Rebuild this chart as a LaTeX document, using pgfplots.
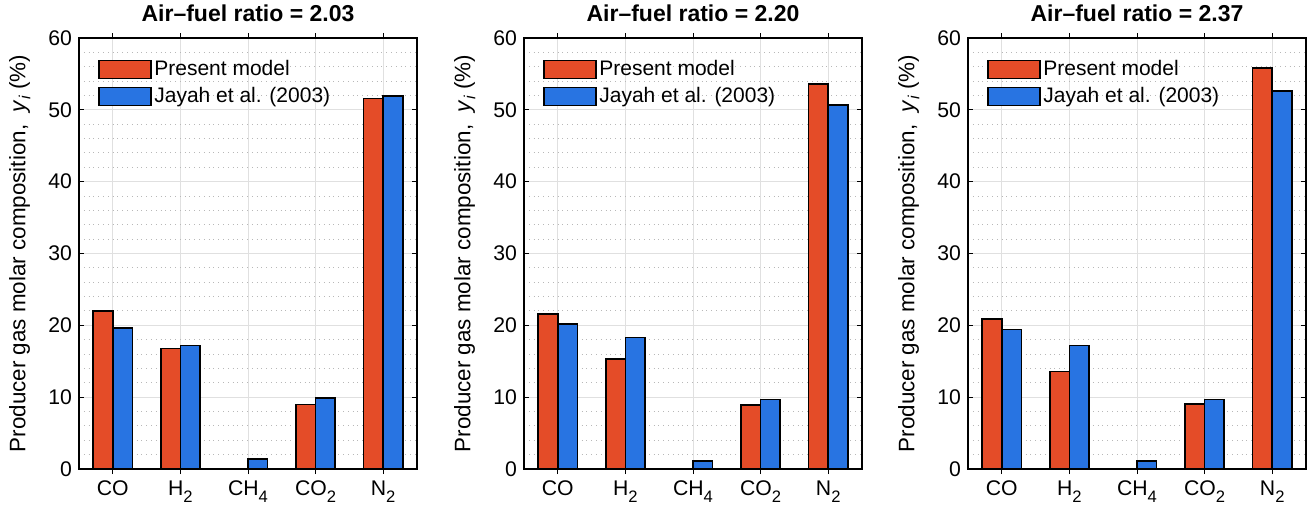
\documentclass[border=0pt]{standalone}
\usepackage{fontspec}
\setmainfont{Liberation Sans}
\usepackage{pgfplots}
\pgfplotsset{compat=1.18}
\definecolor{pm}{RGB}{228,76,40}
\definecolor{jy}{RGB}{40,116,226}
\newcommand\sub[1]{\raisebox{-3.2pt}{\fontsize{8.3}{9}\selectfont #1}}

\pgfplotstableread{
x  pm    jy
0  22.0  19.6
1  16.8  17.2
2  0.05  1.4
3  9.0   9.9
4  51.6  51.9
}\tA
\pgfplotstableread{
x  pm    jy
0  21.6  20.2
1  15.3  18.3
2  0.05  1.1
3  8.9   9.7
4  53.6  50.7
}\tB
\pgfplotstableread{
x  pm    jy
0  20.9  19.4
1  13.6  17.2
2  0.05  1.1
3  9.05  9.7
4  55.8  52.6
}\tC

\pgfplotsset{panel/.style={
  scale only axis, width=169pt, height=215.5pt,
  ymin=0, ymax=60, xmin=-0.5, xmax=4.5,
  xtick={0,1,2,3,4},
  xticklabels={CO, H\sub{2}, CH\sub{4}, CO\sub{2}, N\sub{2}},
  ytick={0,10,20,30,40,50,60}, minor y tick num=4,
  grid=both,
  major grid style={color=black!12, line width=0.5pt},
  minor grid style={dotted, color=black!28, line width=0.5pt},
  tick align=inside, major tick length=2.5pt, minor tick length=0pt,
  tick style={black, line width=0.5pt},
  axis line style={black, line width=0.6pt},
  ybar, bar width=0.29,
  font=\fontsize{10.6}{12}\selectfont,
  tick label style={font=\fontsize{10.6}{12}\selectfont},
  /pgf/number format/assume math mode=true,
  title style={font=\bfseries\fontsize{11.5}{13}\selectfont, yshift=-1.5pt},
  ylabel={Producer gas molar composition,\ \ \textit{y}\raisebox{-2.5pt}{\fontsize{8}{9}\selectfont\textit{i}} (\%)},
  ylabel style={font=\fontsize{11.2}{12}\selectfont, at={(axis description cs:-0.175,0.5)}, anchor=center, rotate=0},
  legend style={draw=none, fill=none, at={(0.056,0.955)}, anchor=north west,
     inner sep=0pt, row sep=2pt, font=\fontsize{10.5}{12}\selectfont,
     nodes={inner sep=1.2pt}},
  legend cell align=left,
  legend image code/.code={\draw[#1, line width=0.8pt] (0pt,-4.5pt) rectangle (26pt,4.5pt);},
  every axis plot/.append style={draw=black, line width=0.8pt},
}}

\begin{document}
\begin{tikzpicture}
\path[use as bounding box] (0,0) rectangle (655pt,252.5pt);
\begin{axis}[panel, at={(39.5pt,18pt)}, anchor=south west, title={Air--fuel ratio = 2.03}]
\addplot[fill=pm, bar shift=-0.145] table[x=x,y=pm] {\tA};
\addplot[fill=jy, bar shift=0.145] table[x=x,y=jy] {\tA};
\legend{Present model, Jayah et al. (2003)}
\end{axis}
\begin{axis}[panel, at={(262pt,18pt)}, anchor=south west, title={Air--fuel ratio = 2.20}]
\addplot[fill=pm, bar shift=-0.145] table[x=x,y=pm] {\tB};
\addplot[fill=jy, bar shift=0.145] table[x=x,y=jy] {\tB};
\legend{Present model, Jayah et al. (2003)}
\end{axis}
\begin{axis}[panel, at={(484pt,18pt)}, anchor=south west, title={Air--fuel ratio = 2.37}]
\addplot[fill=pm, bar shift=-0.145] table[x=x,y=pm] {\tC};
\addplot[fill=jy, bar shift=0.145] table[x=x,y=jy] {\tC};
\legend{Present model, Jayah et al. (2003)}
\end{axis}
\end{tikzpicture}
\end{document}
